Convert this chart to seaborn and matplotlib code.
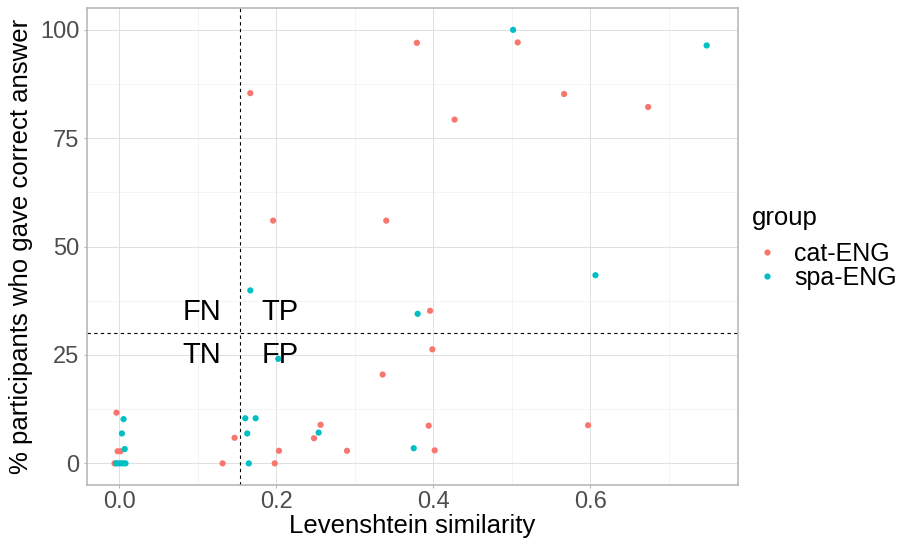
import numpy as np
import pandas as pd
import matplotlib
matplotlib.use("Agg")
import matplotlib.pyplot as plt
from matplotlib.lines import Line2D
from matplotlib.ticker import MultipleLocator
import seaborn as sns

# Levenshtein similarity and % correct answers per item, by language pair
cat_sim = [-0.0035, -0.002, 0.0017, -0.006, 0.1316, 0.1469, 0.198, 0.2034, 0.248,
           0.2564, 0.29, 0.394, 0.4017, 0.597, 0.3354, 0.3987, 0.3958, 0.196,
           0.340, 0.1669, 0.379, 0.5074, 0.427, 0.5665, 0.6735]
cat_pct = [11.7, 2.8, 2.8, 0.0, 0.0, 5.9, 0.0, 2.9, 5.8,
           8.9, 2.9, 8.7, 3.0, 8.8, 20.5, 26.3, 35.2, 56.0,
           56.0, 85.4, 97.0, 97.1, 79.3, 85.2, 82.2]

spa_sim = [0.0055, 0.0034, 0.007, -0.004, -0.001, 0.002, 0.005, 0.008, 0.1605,
           0.1737, 0.163, 0.165, 0.2539, 0.375, 0.2025, 0.1669, 0.38, 0.6064,
           0.5015, 0.748]
spa_pct = [10.2, 6.9, 3.3, 0.0, 0.0, 0.0, 0.0, 0.0, 10.4,
           10.4, 6.9, 0.0, 7.1, 3.5, 24.1, 39.9, 34.5, 43.4,
           100.0, 96.4]

groups = ["cat-ENG", "spa-ENG"]
palette = {"cat-ENG": "#F8766D", "spa-ENG": "#00BFC4"}

# decision thresholds
sim_cut = 0.154
pct_cut = 30

quadrants = [("FN", 0.105, 35), ("TP", 0.205, 35), ("TN", 0.105, 25), ("FP", 0.205, 25)]

df = pd.DataFrame({
    "sim": cat_sim + spa_sim,
    "pct": cat_pct + spa_pct,
    "group": ["cat-ENG"] * len(cat_sim) + ["spa-ENG"] * len(spa_sim),
})

sns.set_theme(style="white")
plt.rcParams["font.family"] = ["Liberation Sans", "DejaVu Sans"]
plt.rcParams["text.color"] = "black"

fig = plt.figure(figsize=(8.99, 5.45), dpi=100)
ax = fig.add_axes([0.0968, 0.110, 0.7242, 0.875])

sns.scatterplot(data=df, x="sim", y="pct", hue="group", hue_order=groups,
                palette=palette, s=20, edgecolor="none", linewidth=0,
                legend=False, ax=ax, zorder=3)

ax.axvline(sim_cut, color="black", linestyle=(0, (3, 3)), linewidth=0.8, zorder=2)
ax.axhline(pct_cut, color="black", linestyle=(0, (3, 3)), linewidth=0.8, zorder=2)

for lab, x, y in quadrants:
    ax.text(x, y, lab, fontsize=21, ha="center", va="center", color="black", zorder=4)

ax.set_xlim(-0.041, 0.788)
ax.set_ylim(-5, 105)
ax.xaxis.set_major_locator(MultipleLocator(0.2))
ax.xaxis.set_minor_locator(MultipleLocator(0.1))
ax.yaxis.set_major_locator(MultipleLocator(25))
ax.yaxis.set_minor_locator(MultipleLocator(12.5))
ax.set_xticks([0.0, 0.2, 0.4, 0.6])
ax.set_xticklabels(["0.0", "0.2", "0.4", "0.6"])

ax.grid(which="major", color="#E0E0E0", linewidth=0.7)
ax.grid(which="minor", color="#EDEDED", linewidth=0.4)
ax.set_axisbelow(True)
for sp in ax.spines.values():
    sp.set_color("#B3B3B3")
    sp.set_linewidth(1.1)

ax.tick_params(axis="both", which="major", labelsize=17, labelcolor="#4D4D4D",
               length=2.5, width=0.7, color="#B3B3B3",
               bottom=True, left=True)
ax.tick_params(axis="x", which="major", pad=1.5)
ax.tick_params(axis="y", which="major", pad=3)
ax.tick_params(axis="both", which="minor", length=0)

ax.set_xlabel("Levenshtein similarity", fontsize=18.5, color="black", labelpad=1)
ax.set_ylabel("% participants who gave correct answer", fontsize=18.5, color="black", labelpad=5)

handles = [Line2D([0], [0], marker="o", linestyle="none", markersize=4.5,
                  markerfacecolor=palette[g], markeredgecolor="none") for g in groups]
leg = ax.legend(handles, groups, title="group", loc="center left",
                bbox_to_anchor=(1.006, 0.497), frameon=False, fontsize=18,
                title_fontsize=18.5, handletextpad=0.5, labelspacing=0.0,
                handlelength=1.2, borderaxespad=0.0, labelcolor="black")
leg.get_title().set_color("black")
leg._legend_box.align = "left"
# extra room between the legend title and its entries
leg._legend_box.sep = 8

fig.savefig("out.png", dpi=100)
